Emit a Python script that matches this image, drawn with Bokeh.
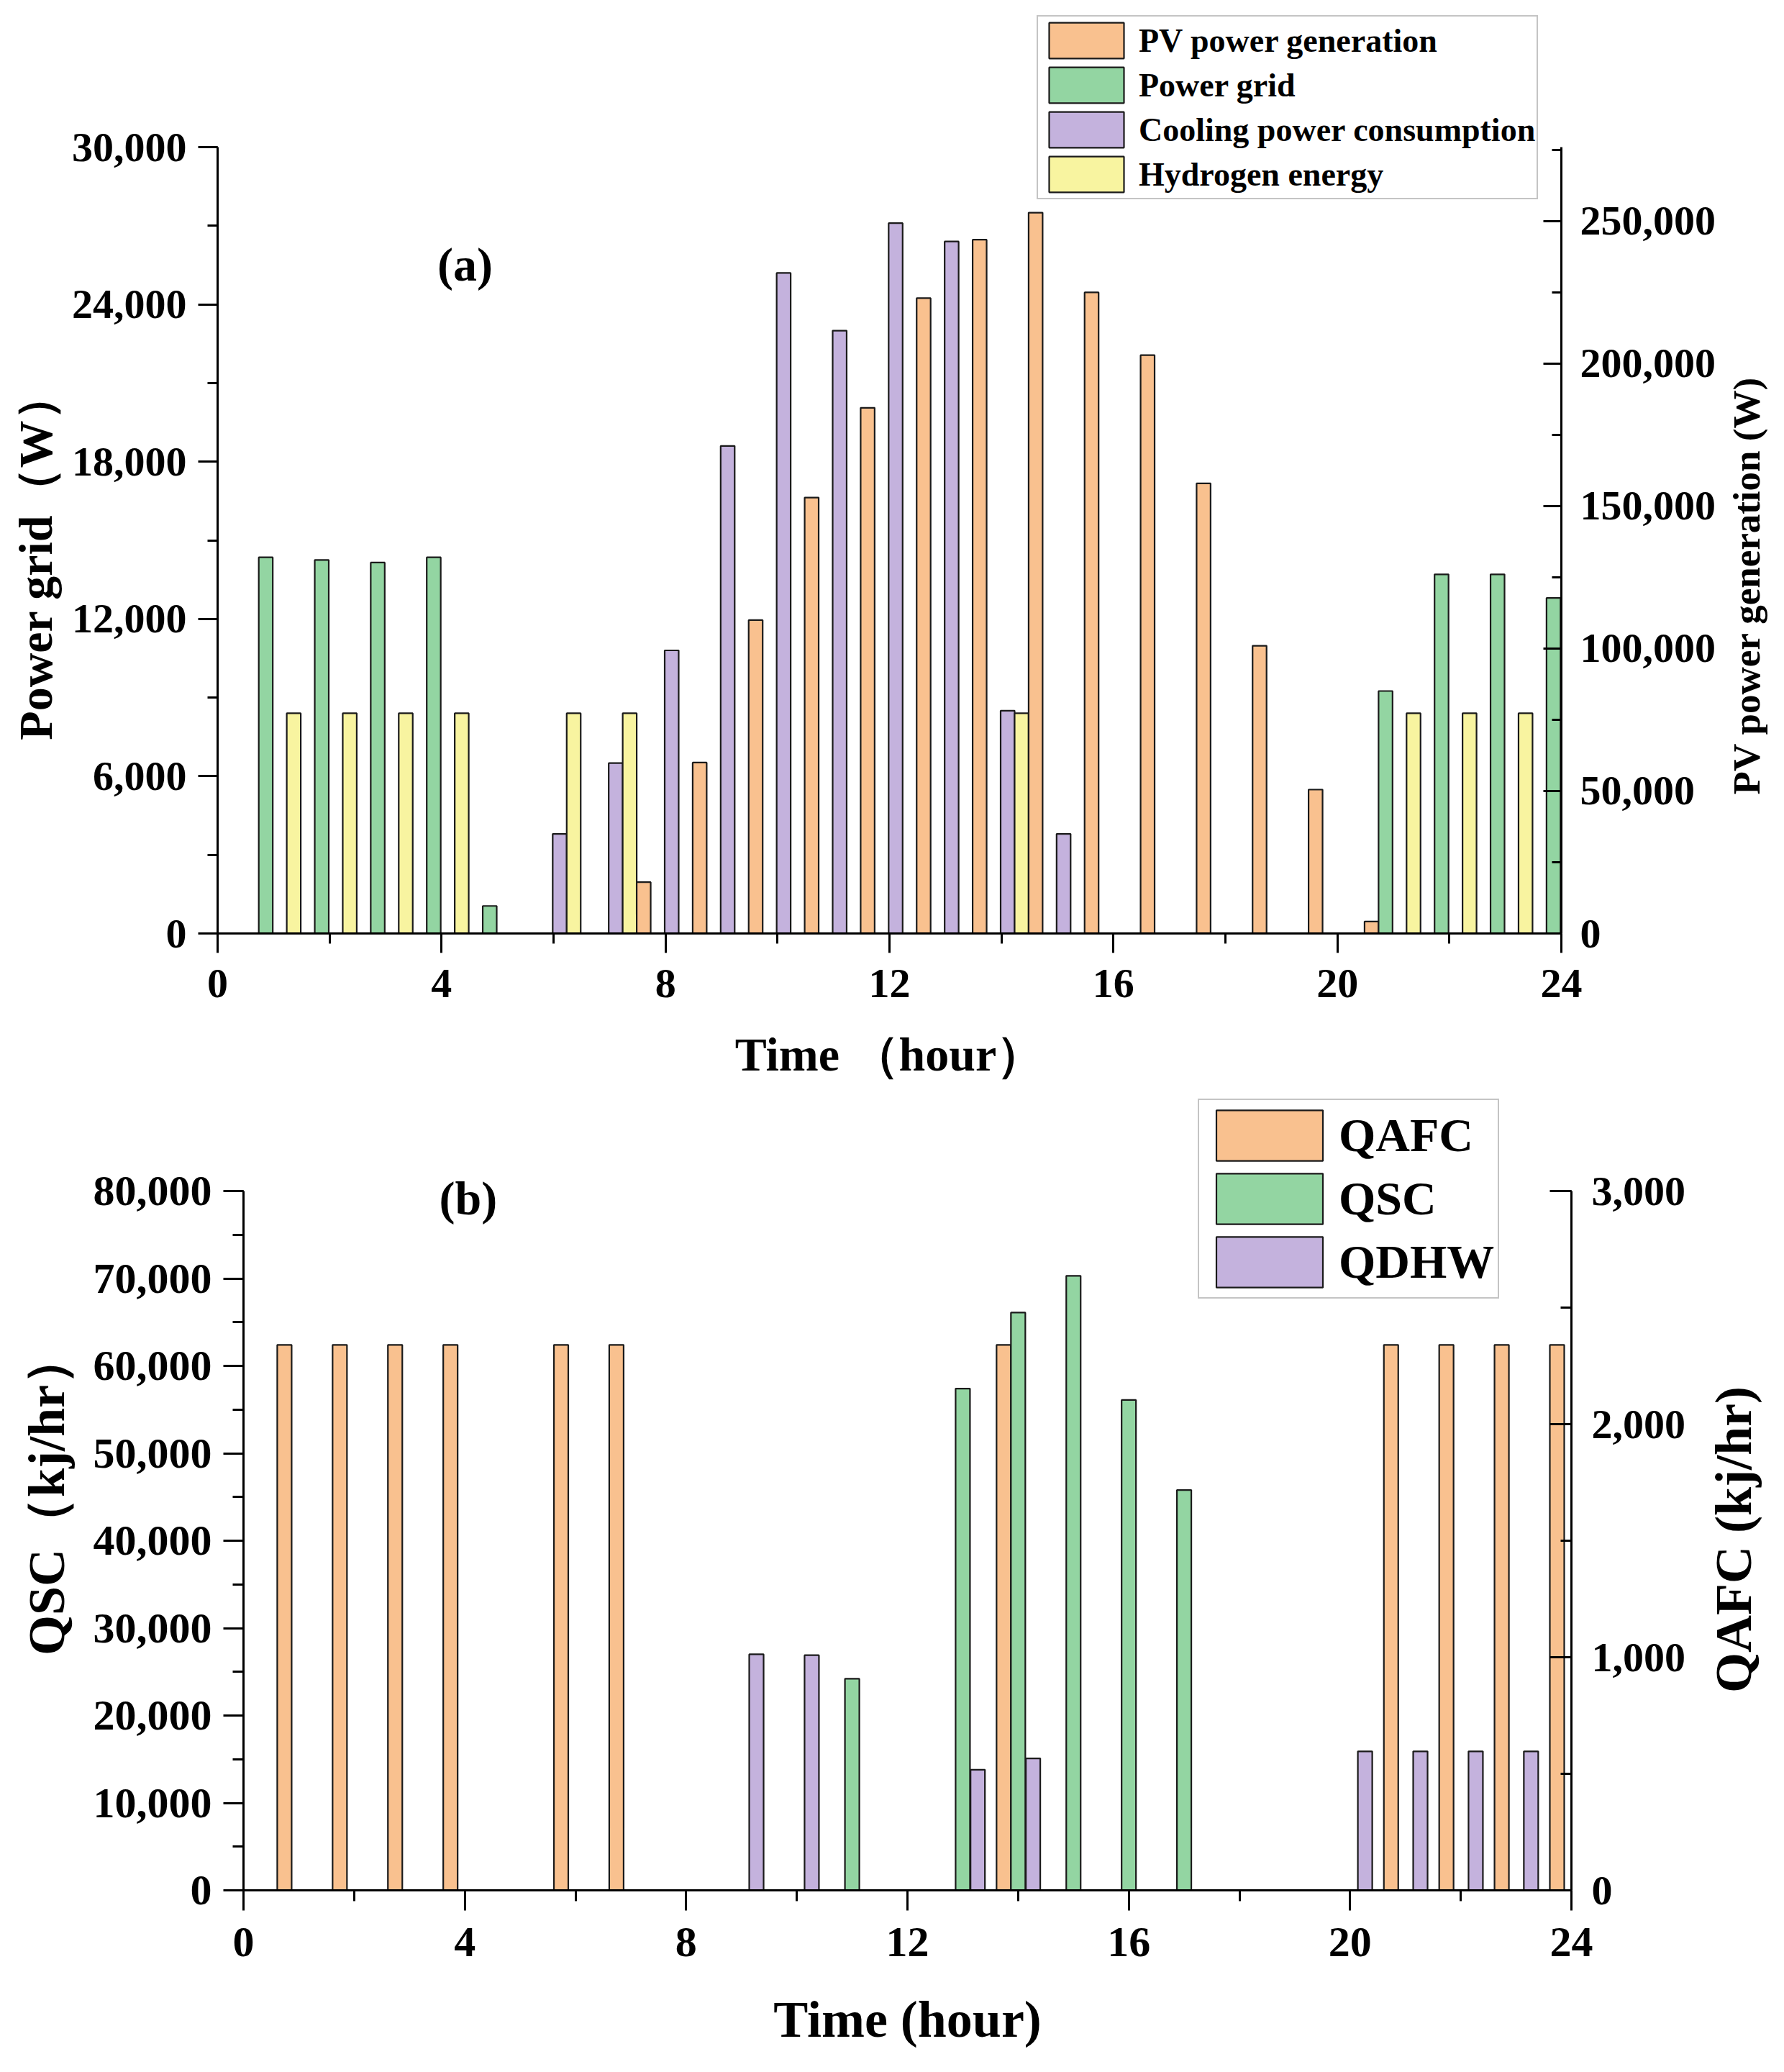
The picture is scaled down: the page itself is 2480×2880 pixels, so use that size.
import math
from bokeh.plotting import figure
from bokeh.layouts import column
from bokeh.models import (Range1d, LinearAxis, SingleIntervalTicker, FixedTicker, NumeralTickFormatter,
                          ColumnDataSource, Legend, LegendItem, Label)
from bokeh.transform import dodge
from bokeh.embed import file_html
from bokeh.resources import INLINE

# ---------------- data: panel (a) ----------------
hours_a = list(range(24))
pv_generation = [0, 0, 0, 0, 0, 0, 0, 18000, 60000, 110000, 153000, 184500,
                 223000, 243500, 253000, 225000, 203000, 158000, 101000, 50500, 4200, 0, 0, 0]
power_grid = [14350, 14250, 14150, 14350, 1050, 0, 0, 0, 0, 0, 0, 0,
              0, 0, 0, 0, 0, 0, 0, 0, 9250, 13700, 13700, 12800]
cooling_power = [0, 0, 0, 0, 0, 0, 3800, 6500, 10800, 18600, 25200, 23000,
                 27100, 26400, 8500, 3800, 0, 0, 0, 0, 0, 0, 0, 0]
hydrogen_energy = [0, 8400, 8400, 8400, 8400, 0, 8400, 8400, 0, 0, 0, 0,
                   0, 0, 8400, 0, 0, 0, 0, 0, 0, 8400, 8400, 8400]
axis_a_left = (0, 30000, 6000)
axis_a_right = (0, 276000, 50000)

# ---------------- data: panel (b) ----------------
hours_b = list(range(1, 25))
qafc = [2340, 2340, 2340, 2340, 0, 2340, 2340, 0, 0, 0, 0, 0,
        0, 2340, 0, 0, 0, 0, 0, 0, 2340, 2340, 2340, 2340]
qsc = [0, 0, 0, 0, 0, 0, 0, 0, 0, 0, 24200, 0,
       57400, 66100, 70300, 56100, 45800, 0, 0, 0, 0, 0, 0, 0]
qdhw = [0, 0, 0, 0, 0, 0, 0, 0, 27000, 26900, 0, 0,
        13800, 15100, 0, 0, 0, 0, 0, 15900, 15900, 15900, 15900, 0]
axis_b_left = (0, 80000, 10000)
axis_b_right = (0, 3000, 1000)

C_ORANGE = "#F9C18F"
C_GREEN = "#93D5A2"
C_PURPLE = "#C4B2DD"
C_YELLOW = "#F8F4A0"
EDGE = "#1a1a1a"
FONT = "Liberation Serif"
NB = "\u00a0"


def src(hours, vals):
    h = [x for x, v in zip(hours, vals) if v > 0]
    v = [v for v in vals if v > 0]
    return ColumnDataSource(dict(hour=h, val=v))


def style_axis(ax, size, tick_out=27, minor_out=14, tick_in=0, minor_in=0, standoff=14):
    ax.axis_line_width = 3
    ax.axis_line_color = "black"
    ax.major_tick_line_width = 3
    ax.minor_tick_line_width = 3
    ax.major_tick_line_color = "black"
    ax.minor_tick_line_color = "black"
    ax.major_tick_out = tick_out
    ax.major_tick_in = tick_in
    ax.minor_tick_out = minor_out
    ax.minor_tick_in = minor_in
    ax.major_label_text_font = FONT
    ax.major_label_text_font_style = "bold"
    ax.major_label_text_font_size = size
    ax.major_label_text_color = "black"
    ax.major_label_standoff = standoff
    ax.axis_label_text_font = FONT
    ax.axis_label_text_font_style = "bold"
    ax.axis_label_text_color = "black"


def title_axis(p, text, start_value, size, standoff):
    """Right-hand axis title reading bottom-to-top, starting at start_value (left y scale)."""
    t = LinearAxis(ticker=FixedTicker(ticks=[start_value]), major_label_overrides={start_value: text})
    t.axis_line_color = None
    t.major_tick_line_color = None
    t.minor_tick_line_color = None
    t.major_tick_out = 0
    t.major_tick_in = 0
    t.major_label_orientation = math.pi / 2
    t.major_label_standoff = standoff
    t.major_label_text_font = FONT
    t.major_label_text_font_style = "bold"
    t.major_label_text_font_size = size
    t.major_label_text_color = "black"
    p.add_layout(t, "right")


def no_frame_align(p):
    try:
        p.frame_align = False
    except (AttributeError, ValueError):
        pass


# ================= Panel (a) =================
FH_A, AX_H_A = 1280, 1093          # frame height, height of the drawn axes inside it
ext_a = FH_A / AX_H_A
pa = figure(frame_width=1868, frame_height=FH_A, output_backend="svg", toolbar_location=None,
            x_range=Range1d(0, 24), y_range=Range1d(axis_a_left[0], axis_a_left[1] * ext_a),
            min_border_left=302, min_border_top=17, min_border_right=280, min_border_bottom=225)
no_frame_align(pa)
pa.extra_y_ranges = {"pv": Range1d(axis_a_right[0], axis_a_right[1] * ext_a)}
pa.outline_line_color = None
pa.xgrid.visible = False
pa.ygrid.visible = False
pa.background_fill_color = "white"
pa.border_fill_color = "white"

W_A = 0.25
r_cool = pa.vbar(x=dodge("hour", 0.11), top="val", width=W_A, source=src(hours_a, cooling_power),
                 fill_color=C_PURPLE, line_color=EDGE, line_width=2.2)
r_h2 = pa.vbar(x=dodge("hour", 0.36), top="val", width=W_A, source=src(hours_a, hydrogen_energy),
               fill_color=C_YELLOW, line_color=EDGE, line_width=2.2)
r_pv = pa.vbar(x=dodge("hour", 0.61), top="val", width=W_A, source=src(hours_a, pv_generation),
               fill_color=C_ORANGE, line_color=EDGE, line_width=2.2, y_range_name="pv")
r_grid = pa.vbar(x=dodge("hour", 0.86), top="val", width=W_A, source=src(hours_a, power_grid),
                 fill_color=C_GREEN, line_color=EDGE, line_width=2.2)

ax = pa.xaxis[0]
ax.ticker = SingleIntervalTicker(interval=4, num_minor_ticks=2)
style_axis(ax, "58px", standoff=23)
ax.axis_label = "Time （hour）"
ax.axis_label_text_font_size = "66px"
ax.axis_label_standoff = 40

ay = pa.yaxis[0]
ay.ticker = SingleIntervalTicker(interval=axis_a_left[2], num_minor_ticks=2)
ay.formatter = NumeralTickFormatter(format="0,0")
ay.bounds = (axis_a_left[0], axis_a_left[1])
style_axis(ay, "58px", standoff=16)
ay.axis_label = "Power grid（W）" + NB * 14
ay.axis_label_text_font_size = "66px"
ay.axis_label_standoff = 11

ar = LinearAxis(y_range_name="pv", ticker=SingleIntervalTicker(interval=axis_a_right[2], num_minor_ticks=2),
                formatter=NumeralTickFormatter(format="0,0"), bounds=(axis_a_right[0], axis_a_right[1]))
style_axis(ar, "58px", tick_out=0, minor_out=0, tick_in=25, minor_in=13, standoff=26)
pa.add_layout(ar, "right")
title_axis(pa, "PV power generation (W)", 5300, "53px", 40)

pa.add_layout(Label(x=4.42, y=25530, text="(a)", text_align="center", text_baseline="middle",
                    text_font=FONT, text_font_style="bold", text_font_size="66px", text_color="black"))

leg_a = Legend(items=[LegendItem(label="PV power generation", renderers=[r_pv]),
                      LegendItem(label="Power grid", renderers=[r_grid]),
                      LegendItem(label="Cooling power consumption", renderers=[r_cool]),
                      LegendItem(label="Hydrogen energy", renderers=[r_h2])],
               location=(1139, 1020), orientation="vertical",
               glyph_width=130, glyph_height=62, spacing=0, padding=2, margin=0, label_standoff=8,
               label_text_font=FONT, label_text_font_style="bold", label_text_font_size="46px",
               label_text_color="black", border_line_color="#8a8a8a", border_line_width=2,
               background_fill_color="white", background_fill_alpha=1.0)
pa.add_layout(leg_a)

# ================= Panel (b) =================
FH_B, AX_H_B = 1101, 972
ext_b = FH_B / AX_H_B
pb = figure(frame_width=1846, frame_height=FH_B, output_backend="svg", toolbar_location=None,
            x_range=Range1d(0, 24), y_range=Range1d(axis_b_left[0], axis_b_left[1] * ext_b),
            min_border_left=338, min_border_top=4, min_border_right=272, min_border_bottom=235)
no_frame_align(pb)
pb.extra_y_ranges = {"afc": Range1d(axis_b_right[0], axis_b_right[1] * ext_b)}
pb.outline_line_color = None
pb.xgrid.visible = False
pb.ygrid.visible = False
pb.background_fill_color = "white"
pb.border_fill_color = "white"

W_B = 0.26
r_afc = pb.vbar(x=dodge("hour", -0.26), top="val", width=W_B, source=src(hours_b, qafc),
                fill_color=C_ORANGE, line_color=EDGE, line_width=2.2, y_range_name="afc")
r_sc = pb.vbar(x=dodge("hour", 0.0), top="val", width=W_B, source=src(hours_b, qsc),
               fill_color=C_GREEN, line_color=EDGE, line_width=2.2)
r_dhw = pb.vbar(x=dodge("hour", 0.27), top="val", width=W_B, source=src(hours_b, qdhw),
                fill_color=C_PURPLE, line_color=EDGE, line_width=2.2)

bx = pb.xaxis[0]
bx.ticker = SingleIntervalTicker(interval=4, num_minor_ticks=2)
style_axis(bx, "60px", tick_out=28, minor_out=15, standoff=24)
bx.axis_label = "Time (hour)"
bx.axis_label_text_font_size = "72px"
bx.axis_label_standoff = 45

by = pb.yaxis[0]
by.ticker = SingleIntervalTicker(interval=axis_b_left[2], num_minor_ticks=2)
by.formatter = NumeralTickFormatter(format="0,0")
by.bounds = (axis_b_left[0], axis_b_left[1])
style_axis(by, "60px", tick_out=28, minor_out=15, standoff=16)
by.axis_label = "QSC（kj/hr）"
by.axis_label_text_font_size = "72px"
by.axis_label_standoff = 22

br = LinearAxis(y_range_name="afc", ticker=SingleIntervalTicker(interval=axis_b_right[2], num_minor_ticks=2),
                formatter=NumeralTickFormatter(format="0,0"), bounds=(axis_b_right[0], axis_b_right[1]))
style_axis(br, "58px", tick_out=0, minor_out=0, tick_in=30, minor_in=15, standoff=28)
pb.add_layout(br, "right")
title_axis(pb, "QAFC (kj/hr)", 22600, "72px", 64)

pb.add_layout(Label(x=4.06, y=79200, text="(b)", text_align="center", text_baseline="middle",
                    text_font=FONT, text_font_style="bold", text_font_size="66px", text_color="black"))

leg_b = Legend(items=[LegendItem(label="QAFC", renderers=[r_afc]),
                      LegendItem(label="QSC", renderers=[r_sc]),
                      LegendItem(label="QDHW", renderers=[r_dhw])],
               location=(1327, 822), orientation="vertical",
               glyph_width=185, glyph_height=88, spacing=0, padding=5, margin=0, label_standoff=4,
               label_text_font=FONT, label_text_font_style="bold", label_text_font_size="66px",
               label_text_color="black", border_line_color="#8a8a8a", border_line_width=2,
               background_fill_color="white", background_fill_alpha=1.0)
pb.add_layout(leg_b)

layout = column(pa, pb, spacing=0)
open("out.html", "w").write(file_html(layout, INLINE))
